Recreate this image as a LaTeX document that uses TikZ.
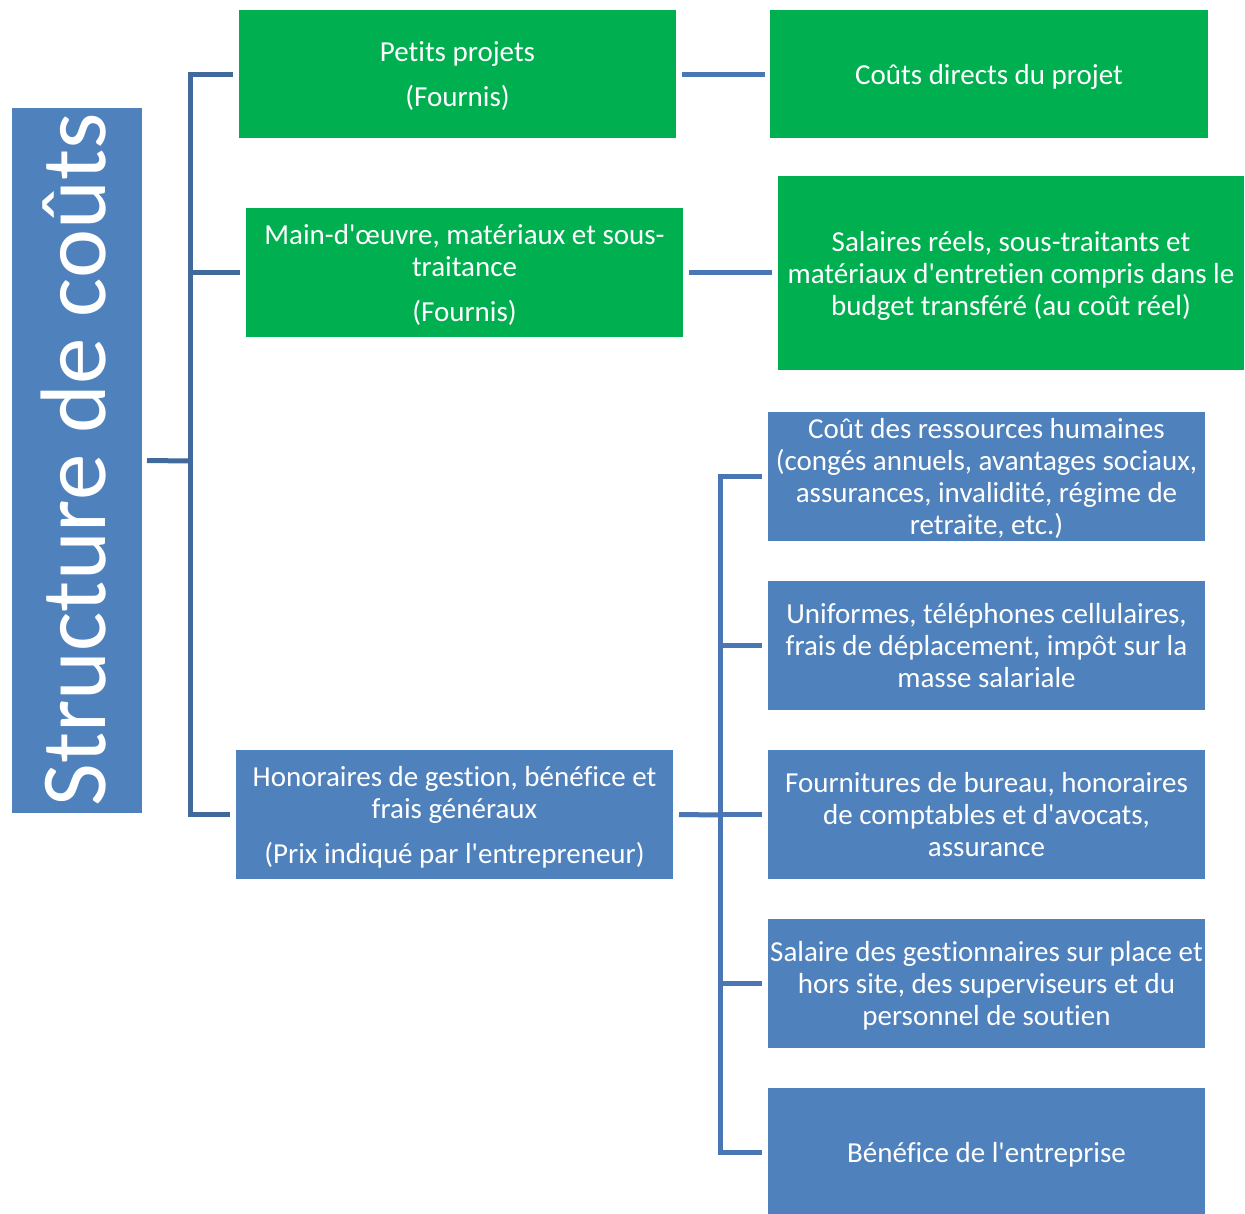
\documentclass[tikz,border=0pt]{standalone}
\usepackage{fontspec}
\setmainfont[Ligatures={NoCommon,NoContextual,NoRequired},RawFeature={-liga;-clig;-dlig}]{Carlito}
\definecolor{boxgreen}{HTML}{00B050}
\definecolor{boxblue}{HTML}{4F81BD}
\definecolor{linkdark}{HTML}{41699C}
\definecolor{linkblue}{HTML}{4A76B4}
\newcommand{\ap}{\textquotesingle}
\begin{document}
\begin{tikzpicture}[x=1pt,y=-1pt,
  cbox/.style={rectangle, anchor=north west, inner sep=0pt, outer sep=0pt, text=white,
     align=center, font=\fontsize{29}{32}\selectfont, text depth=0pt},
  gbox/.style={cbox, fill=boxgreen},
  bbox/.style={cbox, fill=boxblue},
  linkA/.style={draw=linkdark, line width=5pt},
  linkB/.style={draw=linkblue, line width=5pt}]
\useasboundingbox[fill=white] (0,0) rectangle (1245,1213);
\begin{scope}
\clip (0,0) rectangle (1245,1213);
% title
\node[rectangle, fill=boxblue, inner sep=0pt, outer sep=0pt, minimum width=130pt, minimum height=705pt] (title) at (77,460.5) {};
\node[rotate=90, inner sep=0pt, text=white, font=\fontsize{93}{100}\selectfont] (titletext) at (74,460) {Structure de coûts};
% green boxes
\node[gbox, minimum width=437pt, minimum height=128pt] (A) at (239,10) {Petits projets\\[13pt](Fournis)};
\node[gbox, minimum width=437pt, minimum height=129pt] (B) at (246,208) {Main-d\ap œuvre, matériaux et sous-\\traitance\\[13pt](Fournis)};
\node[gbox, minimum width=438pt, minimum height=128pt] (C) at (770,10) {Coûts directs du projet};
\node[gbox, minimum width=466pt, minimum height=194pt] (D) at (778,176) {Salaires réels, sous-traitants et\\matériaux d\ap entretien compris dans le\\budget transféré (au coût réel)};
% blue boxes
\node[bbox, minimum width=437pt, minimum height=129pt] (E) at (236,750) {Honoraires de gestion, bénéfice et\\frais généraux\\[13pt](Prix indiqué par l\ap entrepreneur)};
\node[bbox, minimum width=437pt, minimum height=129pt] (R1) at (768,412) {Coût des ressources humaines\\(congés annuels, avantages sociaux,\\assurances, invalidité, régime de\\retraite, etc.)};
\node[bbox, minimum width=437pt, minimum height=129pt] (R2) at (768,581) {Uniformes, téléphones cellulaires,\\frais de déplacement, impôt sur la\\masse salariale};
\node[bbox, minimum width=437pt, minimum height=129pt] (R3) at (768,750) {Fournitures de bureau, honoraires\\de comptables et d\ap avocats,\\assurance};
\node[bbox, minimum width=437pt, minimum height=129pt] (R4) at (768,919) {Salaire des gestionnaires sur place et\\hors site, des superviseurs et du\\personnel de soutien};
\node[bbox, minimum width=437pt, minimum height=129pt] (R5) at (768,1088) {Bénéfice de l\ap entreprise};
\end{scope}
% left tree
\coordinate (j1) at (190,461);
\draw[linkA] ([xshift=5pt]title.east) -- (j1);
\draw[linkA] (j1) |- ([xshift=-6pt]A.west);
\draw[linkA] (j1) |- ([xshift=-6pt]B.west);
\draw[linkA] (j1) |- ([xshift=-6pt]E.west);
% horizontal links
\draw[linkB] ([xshift=6pt]A.east) -- ([xshift=-5pt]C.west |- A.east);
\draw[linkB] ([xshift=6pt]B.east) -- ([xshift=-6pt]D.west |- B.east);
% right tree
\coordinate (j2) at (720,815);
\draw[linkB] ([xshift=6pt]E.east) -- (j2);
\foreach \r in {R1,R2,R3,R4,R5}{
  \draw[linkB] (j2) |- ([xshift=-6pt]\r.west);
}
\end{tikzpicture}
\end{document}
